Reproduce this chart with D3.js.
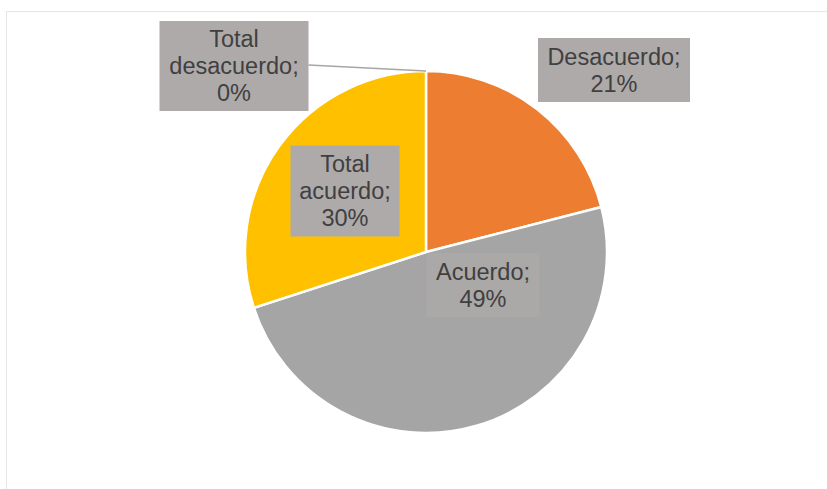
<!DOCTYPE html>
<html>
<head>
<meta charset="utf-8">
<script src="https://cdn.jsdelivr.net/npm/d3@7"></script>
<style>
  html, body { margin: 0; padding: 0; background: #fff; }
  svg { display: block; }
</style>
</head>
<body>
<svg id="chart" width="827" height="489"></svg>
<script>
// Survey response categories and their shares (%)
const categories = ["Total desacuerdo", "Desacuerdo", "Acuerdo", "Total acuerdo"];
const values = [0, 21, 49, 30];
const colors = ["#5B9BD5", "#ED7D31", "#A5A5A5", "#FFC000"];
// Label text lines per category
const labelLines = [
  ["Total", "desacuerdo;", "0%"],
  ["Desacuerdo;", "21%"],
  ["Acuerdo;", "49%"],
  ["Total", "acuerdo;", "30%"]
];
// Label box centres relative to the pie centre
const labelCenters = [[-192, -186], [188, -182], [57, 33], [-81, -61]];
const labelBoxSizes = [[149, 90], [152, 64], [113, 64], [109, 91]];

const svg = d3.select("#chart");
const W = 827, H = 489;
const cx = 426, cy = 252, r = 181;

// Chart area frame
svg.append("rect")
  .attr("x", 6.5).attr("y", 11.5)
  .attr("width", W).attr("height", H)
  .attr("fill", "#fff")
  .attr("stroke", "#e6e6e6").attr("stroke-width", 1);

const data = categories.map((c, i) => ({ cat: c, value: values[i], i }));

const pie = d3.pie().value(d => d.value).sort(null);
const arc = d3.arc().innerRadius(0).outerRadius(r);
const arcs = pie(data);

const g = svg.append("g").attr("transform", `translate(${cx},${cy})`);

g.selectAll("path.slice")
  .data(arcs)
  .join("path")
  .attr("class", "slice")
  .attr("d", arc)
  .attr("fill", d => colors[d.data.i])
  .attr("stroke", "#fff")
  .attr("stroke-width", 2.5)
  .attr("stroke-linejoin", "round");

// Leader line for the zero-width slice
const zero = arcs[0];
const zAng = (zero.startAngle + zero.endAngle) / 2;
const zx = Math.sin(zAng) * r, zy = -Math.cos(zAng) * r;
const zc = labelCenters[0], zs = labelBoxSizes[0];
g.append("line")
  .attr("x1", zc[0] + zs[0] / 2).attr("y1", zc[1] - 1)
  .attr("x2", zx).attr("y2", zy)
  .attr("stroke", "#A6A6A6").attr("stroke-width", 1.5);

// Data labels
const lineH = 27;
arcs.forEach(d => {
  const i = d.data.i;
  const [lx, ly] = labelCenters[i];
  const [bw, bh] = labelBoxSizes[i];
  const lg = g.append("g").attr("transform", `translate(${lx},${ly})`);
  lg.append("rect")
    .attr("x", -bw / 2).attr("y", -bh / 2)
    .attr("width", bw).attr("height", bh)
    .attr("fill", "#AEAAAA")
    .attr("fill-opacity", i === 2 ? 0.75 : 1);
  const lines = labelLines[i];
  const y0 = -((lines.length - 1) * lineH) / 2;
  lines.forEach((t, k) => {
    lg.append("text")
      .attr("x", 0).attr("y", y0 + k * lineH)
      .attr("dy", "0.35em")
      .attr("text-anchor", "middle")
      .attr("font-family", "Liberation Sans, Arial, sans-serif")
      .attr("font-size", 23.5)
      .attr("fill", "#404040")
      .text(t);
  });
});
</script>
</body>
</html>
